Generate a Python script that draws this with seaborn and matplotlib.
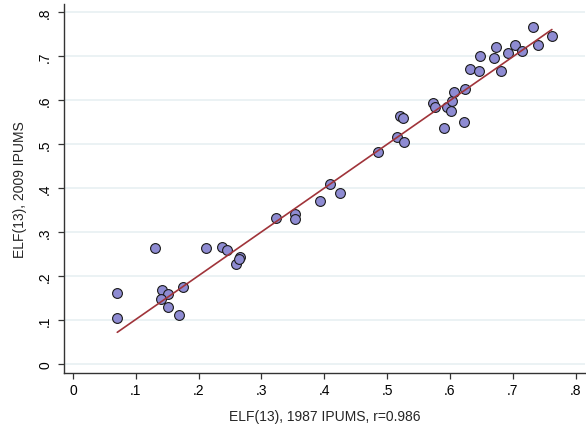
import matplotlib
matplotlib.use("Agg")
import matplotlib.pyplot as plt
import seaborn as sns
import pandas as pd

elf_1987 = [0.0705, 0.0705, 0.1304, 0.142, 0.152, 0.140, 0.152, 0.169, 0.175,
            0.212, 0.2365, 0.2444, 0.2588, 0.2656, 0.2645, 0.3224, 0.3526, 0.353,
            0.3928, 0.409, 0.4257, 0.4856, 0.520, 0.5254, 0.5158, 0.5264, 0.573,
            0.5768, 0.5906, 0.5948, 0.6011, 0.6033, 0.6065, 0.6219, 0.6235, 0.632,
            0.646, 0.682, 0.7327, 0.7623, 0.740, 0.674, 0.703, 0.6484, 0.6696,
            0.6918, 0.7146]
elf_2009 = [0.161, 0.106, 0.264, 0.170, 0.159, 0.148, 0.131, 0.113, 0.176,
            0.264, 0.267, 0.259, 0.227, 0.2446, 0.239, 0.3325, 0.342, 0.330,
            0.3705, 0.409, 0.390, 0.4818, 0.5636, 0.559, 0.517, 0.506, 0.593,
            0.584, 0.537, 0.5855, 0.576, 0.598, 0.618, 0.550, 0.626, 0.672,
            0.666, 0.667, 0.767, 0.746, 0.7264, 0.722, 0.7257, 0.7014, 0.696,
            0.7068, 0.7113]
fit_x = [0.0705, 0.7623]
fit_y = [0.0727, 0.761]
tick_values = [0, 0.1, 0.2, 0.3, 0.4, 0.5, 0.6, 0.7, 0.8]
tick_labels = ["0", ".1", ".2", ".3", ".4", ".5", ".6", ".7", ".8"]
x_label = "ELF(13), 1987 IPUMS, r=0.986"
y_label = "ELF(13), 2009 IPUMS"

df = pd.DataFrame({"x": elf_1987, "y": elf_2009})
fit_df = pd.DataFrame({"x": fit_x, "y": fit_y})

sns.set_style("white")
plt.rcParams["font.family"] = ["Liberation Sans", "DejaVu Sans"]

fig = plt.figure(figsize=(5.86, 4.31), dpi=100)
ax = fig.add_axes([64 / 586, 57 / 431, 521 / 586, 369 / 431])

sns.scatterplot(data=df, x="x", y="y", ax=ax, s=50, color="#8E8BD2",
                edgecolor="#1a1a1a", linewidth=0.8, zorder=3)
sns.lineplot(data=fit_df, x="x", y="y", ax=ax, color="#A0343A",
             linewidth=1.2, zorder=4)

ax.set_xlim(-0.0143, 0.815)
ax.set_ylim(-0.0198, 0.819)
ax.set_xticks(tick_values)
ax.set_xticklabels(tick_labels)
ax.set_yticks(tick_values)
ax.set_yticklabels(tick_labels, rotation=90, va="center")

ax.grid(axis="y", color="#E6EFF1", linewidth=1.1, zorder=0)
ax.grid(axis="x", visible=False)
ax.set_axisbelow(True)

for side in ["top", "right"]:
    ax.spines[side].set_visible(False)
for side in ["left", "bottom"]:
    ax.spines[side].set_color("#333333")
    ax.spines[side].set_linewidth(1.0)

ax.tick_params(axis="both", which="major", direction="out", length=4.5,
               width=0.9, color="#333333", labelsize=10, labelcolor="#000000")
ax.tick_params(axis="x", pad=3)
ax.tick_params(axis="y", pad=4)
ax.tick_params(bottom=True, left=True)

ax.set_xlabel(x_label, fontsize=10, labelpad=8)
ax.set_ylabel(y_label, fontsize=10, labelpad=8)

fig.savefig("out.png", dpi=100)
